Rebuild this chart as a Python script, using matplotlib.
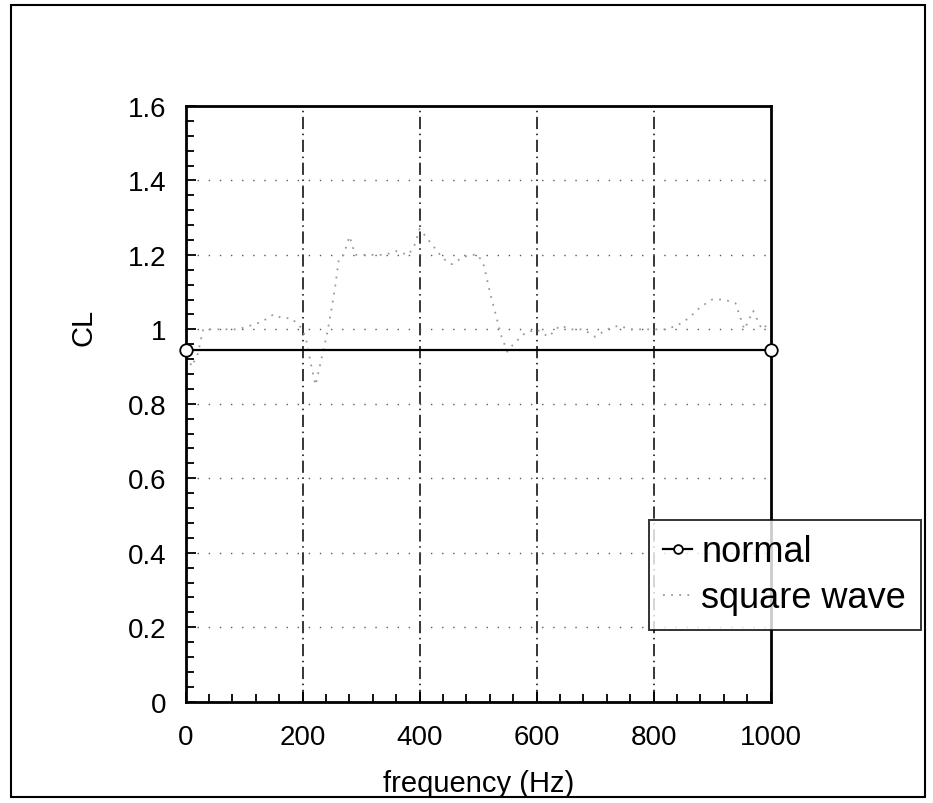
import numpy as np
import matplotlib
matplotlib.use("Agg")
import matplotlib.pyplot as plt
from matplotlib.patches import Rectangle
from matplotlib.ticker import MultipleLocator, FuncFormatter

plt.rcParams["font.family"] = ["Liberation Sans", "DejaVu Sans"]

# data
normal_f = [0, 1000]
normal_cl = [0.945, 0.945]

square_f = [0, 10, 20, 30, 50, 70, 90, 110, 130, 150, 165, 180, 195, 205, 215, 222,
            232, 242, 250, 256, 262, 270, 280, 290, 300, 320, 340, 360, 380, 390,
            400, 410, 425, 440, 455, 470, 485, 500, 510, 520, 530, 540, 550, 560,
            580, 600, 620, 640, 660, 680, 700, 720, 740, 760, 780, 800, 820, 840,
            860, 880, 900, 920, 940, 955, 970, 985, 1000]
square_cl = [0.95, 0.90, 0.93, 1.0, 1.0, 1.0, 1.0, 1.01, 1.02, 1.04, 1.03, 1.03, 1.01,
             0.98, 0.90, 0.85, 0.92, 0.99, 1.06, 1.12, 1.19, 1.20, 1.25, 1.20, 1.20,
             1.20, 1.20, 1.21, 1.20, 1.22, 1.27, 1.25, 1.22, 1.19, 1.175, 1.19, 1.20,
             1.20, 1.17, 1.10, 1.04, 0.98, 0.94, 0.96, 0.99, 1.0, 0.98, 1.01, 1.0, 1.0,
             0.98, 1.0, 1.01, 1.0, 1.0, 1.0, 1.0, 1.01, 1.03, 1.06, 1.08, 1.08, 1.07,
             1.0, 1.05, 1.0, 1.02]

xticks = [0, 200, 400, 600, 800, 1000]
yticks = [0, 0.2, 0.4, 0.6, 0.8, 1.0, 1.2, 1.4, 1.6]

fig = plt.figure(figsize=(9.33, 8.04), dpi=100)
ax = fig.add_axes([0.199, 0.126, 0.627, 0.741])

# grid: vertical dash-dot, horizontal sparse dots
for x in xticks[1:-1]:
    ax.axvline(x, color="black", lw=1.1, linestyle=(0, (8, 3, 1, 3)), zorder=1)
for y in yticks[1:-1]:
    ax.axhline(y, color="0.35", lw=1.0, linestyle=(0, (1, 7)), zorder=1)

ax.plot(square_f, square_cl, color="0.6", lw=1.3, linestyle=(0, (1, 3.5)),
        label="square wave", zorder=2)
ax.plot(normal_f, normal_cl, color="black", lw=1.6, marker="o", markersize=9,
        markerfacecolor="white", markeredgecolor="black", markeredgewidth=1.3,
        label="normal", clip_on=False, zorder=3)

ax.set_xlim(0, 1000)
ax.set_ylim(0, 1.6)
ax.set_xticks(xticks)
ax.set_yticks(yticks)
ax.xaxis.set_minor_locator(MultipleLocator(40))
ax.yaxis.set_minor_locator(MultipleLocator(0.04))
ax.yaxis.set_major_formatter(FuncFormatter(lambda v, p: "%g" % round(v, 2)))
ax.tick_params(which="both", direction="in", top=False, right=False, width=1.3)
ax.tick_params(which="major", length=7, labelsize=20)
ax.tick_params(which="minor", length=6)
ax.tick_params(axis="x", which="major", pad=16)
ax.tick_params(axis="y", which="major", pad=14)
for s in ax.spines.values():
    s.set_linewidth(2)

ax.set_xlabel("frequency (Hz)", fontsize=21, labelpad=14)
ax.set_ylabel("CL", fontsize=21)
ax.yaxis.set_label_coords(-0.15, 0.63)

leg = ax.legend(handles=ax.get_lines()[::-1][:2], labels=["normal", "square wave"],
                loc="upper left", bbox_to_anchor=(0.6956, 0.352),
                bbox_transform=fig.transFigure, borderaxespad=0, fontsize=26,
                frameon=True, fancybox=False, handlelength=0.8, handletextpad=0.25,
                borderpad=0.4, labelspacing=0.3, markerscale=0.7)
leg.get_frame().set_edgecolor("black")
leg.get_frame().set_linewidth(1.4)

# border around the whole figure
fig.patches.append(Rectangle((11 / 933, 1 - 798 / 804), 914 / 933, 792 / 804,
                             transform=fig.transFigure, fill=False,
                             edgecolor="black", lw=1.5))

fig.savefig("out.png", dpi=100)
